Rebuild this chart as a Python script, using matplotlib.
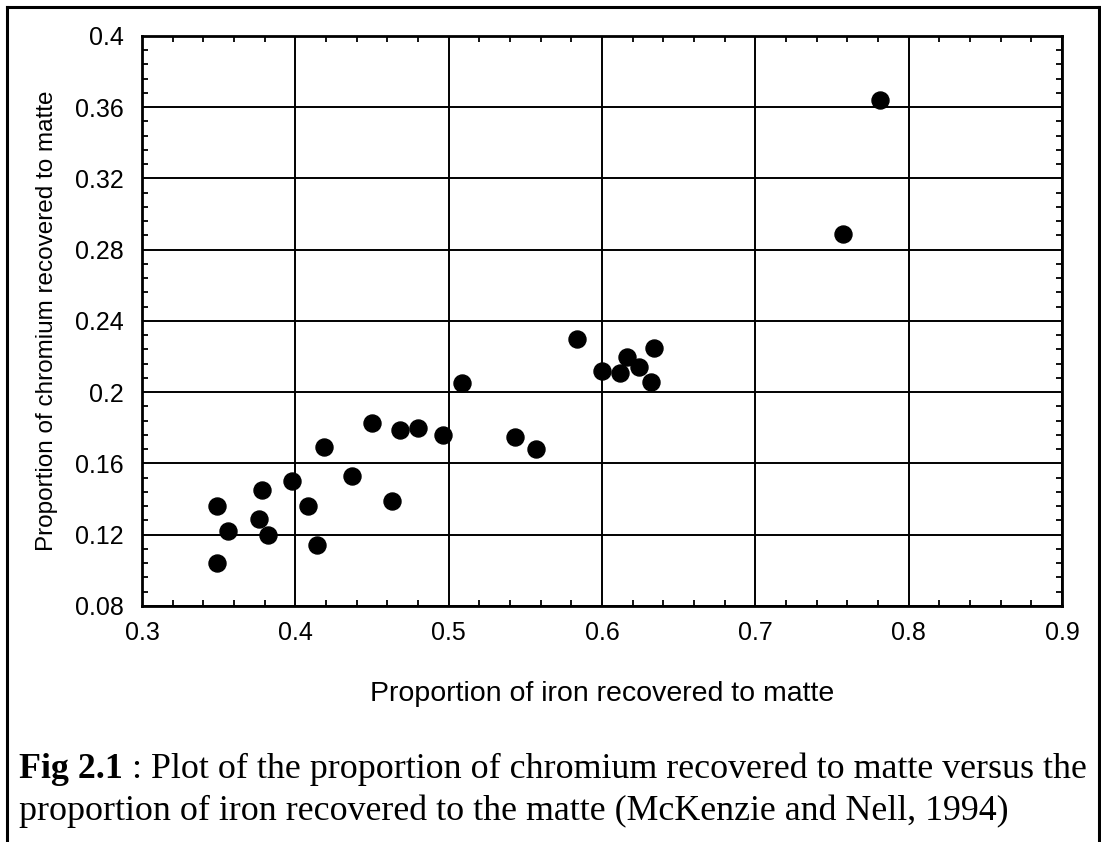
import matplotlib.pyplot as plt
from matplotlib.ticker import MultipleLocator, FixedLocator, FixedFormatter
from matplotlib.lines import Line2D

# Chromium vs iron recovery to matte (McKenzie and Nell, 1994)
iron = [0.349, 0.356, 0.349, 0.378, 0.376, 0.382, 0.398, 0.408, 0.414, 0.419,
        0.437, 0.450, 0.463, 0.468, 0.480, 0.496, 0.509, 0.543, 0.557, 0.781,
        0.757, 0.584, 0.600, 0.616, 0.612, 0.624, 0.634, 0.632]
chromium = [0.136, 0.122, 0.104, 0.145, 0.129, 0.120, 0.150, 0.136, 0.114, 0.169,
            0.153, 0.183, 0.139, 0.179, 0.180, 0.176, 0.205, 0.175, 0.168, 0.364,
            0.289, 0.230, 0.212, 0.220, 0.211, 0.214, 0.225, 0.206]

x_ticks = [0.3, 0.4, 0.5, 0.6, 0.7, 0.8, 0.9]
x_labels = ['0.3', '0.4', '0.5', '0.6', '0.7', '0.8', '0.9']
y_ticks = [0.08, 0.12, 0.16, 0.2, 0.24, 0.28, 0.32, 0.36, 0.4]
y_labels = ['0.08', '0.12', '0.16', '0.2', '0.24', '0.28', '0.32', '0.36', '0.4']

plt.rcParams['font.family'] = ['Liberation Sans', 'DejaVu Sans']

fig = plt.figure(figsize=(11.01, 8.42), dpi=100)
ax = fig.add_axes([0.129, 0.2803, 0.8356, 0.677])

ax.scatter(iron, chromium, s=150, color='black', zorder=3)

ax.set_xlim(0.3, 0.9)
ax.set_ylim(0.08, 0.4)
ax.xaxis.set_major_locator(FixedLocator(x_ticks))
ax.xaxis.set_major_formatter(FixedFormatter(x_labels))
ax.yaxis.set_major_locator(FixedLocator(y_ticks))
ax.yaxis.set_major_formatter(FixedFormatter(y_labels))
ax.xaxis.set_minor_locator(MultipleLocator(0.02))
ax.yaxis.set_minor_locator(MultipleLocator(0.008))

ax.grid(True, which='major', color='black', linewidth=1.4)
ax.tick_params(which='both', direction='in', top=True, right=True,
               color='black', width=1.3)
ax.tick_params(which='major', length=0)
ax.tick_params(which='minor', length=4)
ax.tick_params(axis='x', which='major', labelsize=18, pad=11)
ax.tick_params(axis='y', which='major', labelsize=18, pad=13)
for sp in ax.spines.values():
    sp.set_linewidth(2)

ax.set_xlabel('Proportion of iron recovered to matte', fontsize=20.5, labelpad=26)
ax.set_ylabel('Proportion of chromium recovered to matte', fontsize=17.5, labelpad=12)

# caption below the chart
serif = ['Liberation Serif', 'DejaVu Serif']
cap_size = 25.8
t1 = fig.text(0.017, 0.076, 'Fig 2.1', fontsize=cap_size, fontweight='bold',
              family=serif, va='baseline')
fig.canvas.draw()
ax.annotate(' : Plot of the proportion of chromium recovered to matte versus the',
            xy=(1, 0), xycoords=t1, va='bottom', fontsize=cap_size, family=serif,
            annotation_clip=False)
fig.text(0.017, 0.026, 'proportion of iron recovered to the matte (McKenzie and Nell, 1994)',
         fontsize=cap_size, family=serif, va='baseline')

# frame round the figure
frame_kw = dict(color='black', linewidth=2.2, transform=fig.transFigure)
fig.add_artist(Line2D([0.006, 0.006], [0.0, 0.992], **frame_kw))
fig.add_artist(Line2D([0.006, 0.998], [0.992, 0.992], **frame_kw))
fig.add_artist(Line2D([0.998, 0.998], [0.0, 0.992], **frame_kw))

fig.savefig('out.png', dpi=100)
